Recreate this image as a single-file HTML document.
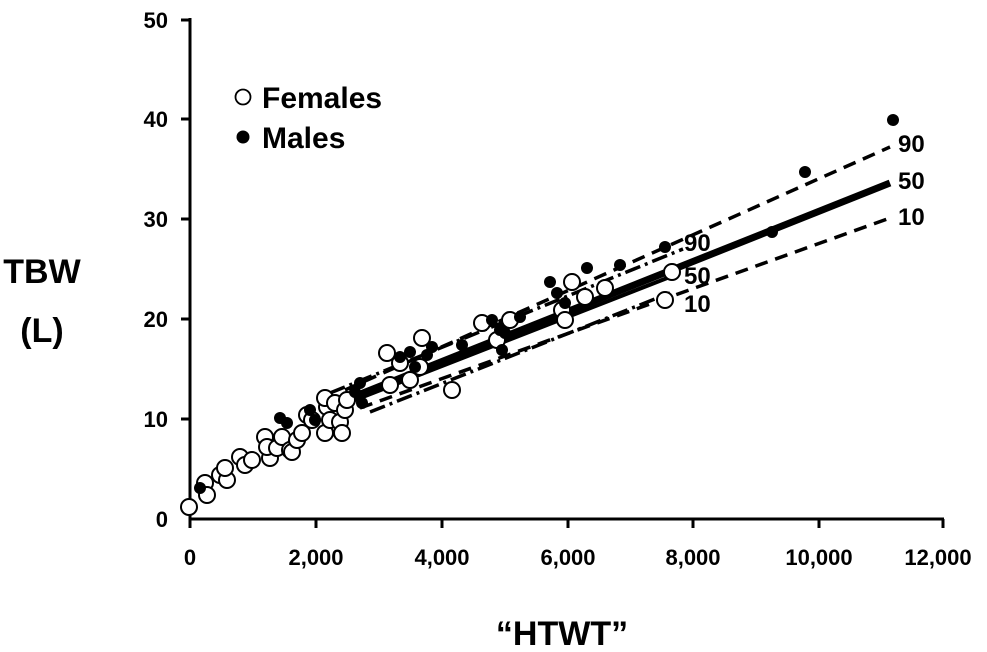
<!DOCTYPE html>
<html><head><meta charset="utf-8"><style>
html,body{margin:0;padding:0;background:#fff}
svg{display:block}
text{font-family:"Liberation Sans",Arial,sans-serif;font-weight:bold;fill:#000}
</style></head><body>
<svg width="987" height="652" viewBox="0 0 987 652" xmlns="http://www.w3.org/2000/svg">
<g stroke="#000" stroke-width="3" fill="none">
<line x1="190" y1="18" x2="190" y2="520"/>
<line x1="189" y1="519" x2="944" y2="519"/>
<line x1="181" y1="20" x2="190" y2="20"/>
<line x1="181" y1="119" x2="190" y2="119"/>
<line x1="181" y1="219" x2="190" y2="219"/>
<line x1="181" y1="319" x2="190" y2="319"/>
<line x1="181" y1="419" x2="190" y2="419"/>
<line x1="190" y1="519" x2="190" y2="528"/>
<line x1="316" y1="519" x2="316" y2="528"/>
<line x1="442" y1="519" x2="442" y2="528"/>
<line x1="568" y1="519" x2="568" y2="528"/>
<line x1="693" y1="519" x2="693" y2="528"/>
<line x1="819" y1="519" x2="819" y2="528"/>
<line x1="943" y1="519" x2="943" y2="528"/>
</g>
<g font-size="22" text-anchor="end">
<text x="168" y="28">50</text><text x="168" y="127">40</text><text x="168" y="227">30</text>
<text x="168" y="327">20</text><text x="168" y="427">10</text><text x="168" y="527">0</text>
</g>
<g font-size="22" text-anchor="middle">
<text x="190" y="565">0</text><text x="316" y="565">2,000</text><text x="442" y="565">4,000</text>
<text x="568" y="565">6,000</text><text x="693" y="565">8,000</text><text x="819" y="565">10,000</text><text x="938" y="565">12,000</text>
</g>
<text x="42" y="283" font-size="34" text-anchor="middle">TBW</text>
<text x="42" y="342" font-size="34" text-anchor="middle">(L)</text>
<text x="562" y="645" font-size="34" text-anchor="middle">“HTWT”</text>
<circle cx="243" cy="97" r="7.5" fill="#fff" stroke="#000" stroke-width="1.8"/>
<text x="262" y="108" font-size="30">Females</text>
<circle cx="243" cy="137" r="6.5" fill="#000"/>
<text x="262" y="148" font-size="30">Males</text>
<g fill="none" stroke="#000">
<line x1="345" y1="390" x2="890" y2="147" stroke-width="3.5" stroke-dasharray="13,8"/>
<line x1="358" y1="395" x2="890" y2="183" stroke-width="7"/>
<line x1="360" y1="408" x2="890" y2="218" stroke-width="3.5" stroke-dasharray="13,8"/>
<line x1="330" y1="393" x2="683" y2="249" stroke-width="3.5" stroke-dasharray="16,5,3,5"/>
<line x1="355" y1="400" x2="680" y2="273" stroke-width="4"/>
<line x1="370" y1="412" x2="670" y2="293" stroke-width="3.5" stroke-dasharray="16,5,3,5"/>
</g>
<g font-size="24">
<text x="684" y="251">90</text><text x="684" y="284">50</text><text x="684" y="312">10</text>
<text x="898" y="152">90</text><text x="898" y="189">50</text><text x="898" y="225">10</text>
</g>
<g fill="#fff" stroke="#000" stroke-width="2">
<circle cx="189" cy="507" r="8"/><circle cx="205" cy="483" r="8"/><circle cx="207" cy="495" r="8"/>
<circle cx="220" cy="475" r="8"/><circle cx="227" cy="480" r="8"/><circle cx="225" cy="468" r="8"/>
<circle cx="240" cy="457" r="8"/><circle cx="245" cy="465" r="8"/><circle cx="252" cy="460" r="8"/>
<circle cx="270" cy="458" r="8"/><circle cx="265" cy="437" r="8"/><circle cx="267" cy="447" r="8"/>
<circle cx="277" cy="448" r="8"/><circle cx="282" cy="437" r="8"/><circle cx="290" cy="450" r="8"/>
<circle cx="292" cy="452" r="8"/><circle cx="297" cy="440" r="8"/><circle cx="302" cy="433" r="8"/>
<circle cx="307" cy="415" r="8"/><circle cx="312" cy="420" r="8"/><circle cx="325" cy="433" r="8"/>
<circle cx="327" cy="407" r="8"/><circle cx="325" cy="398" r="8"/><circle cx="330" cy="420" r="8"/>
<circle cx="335" cy="403" r="8"/><circle cx="340" cy="422" r="8"/><circle cx="342" cy="433" r="8"/>
<circle cx="345" cy="410" r="8"/><circle cx="347" cy="400" r="8"/><circle cx="387" cy="353" r="8"/>
<circle cx="390" cy="385" r="8"/><circle cx="400" cy="363" r="8"/><circle cx="410" cy="380" r="8"/>
<circle cx="420" cy="367" r="8"/><circle cx="422" cy="338" r="8"/><circle cx="452" cy="390" r="8"/>
<circle cx="482" cy="323" r="8"/><circle cx="497" cy="340" r="8"/><circle cx="510" cy="320" r="8"/>
<circle cx="562" cy="310" r="8"/><circle cx="565" cy="320" r="8"/><circle cx="572" cy="282" r="8"/>
<circle cx="585" cy="297" r="8"/><circle cx="605" cy="288" r="8"/><circle cx="665" cy="300" r="8"/>
<circle cx="672" cy="272" r="8"/>
</g>
<g fill="#000">
<circle cx="200" cy="488" r="6"/><circle cx="280" cy="418" r="6"/><circle cx="287" cy="423" r="6"/>
<circle cx="310" cy="410" r="6"/><circle cx="315" cy="420" r="6"/><circle cx="355" cy="392" r="6"/>
<circle cx="360" cy="383" r="6"/><circle cx="362" cy="403" r="6"/><circle cx="400" cy="357" r="6"/>
<circle cx="410" cy="352" r="6"/><circle cx="415" cy="367" r="6"/><circle cx="427" cy="355" r="6"/>
<circle cx="432" cy="347" r="6"/><circle cx="462" cy="345" r="6"/><circle cx="492" cy="320" r="6"/>
<circle cx="500" cy="330" r="6"/><circle cx="505" cy="333" r="6"/><circle cx="502" cy="350" r="6"/>
<circle cx="520" cy="317" r="6"/><circle cx="550" cy="282" r="6"/><circle cx="557" cy="293" r="6"/>
<circle cx="565" cy="303" r="6"/><circle cx="587" cy="268" r="6"/><circle cx="620" cy="265" r="6"/>
<circle cx="665" cy="247" r="6"/><circle cx="772" cy="232" r="6"/><circle cx="805" cy="172" r="6"/>
<circle cx="893" cy="120" r="6"/>
</g>
</svg>
</body></html>
